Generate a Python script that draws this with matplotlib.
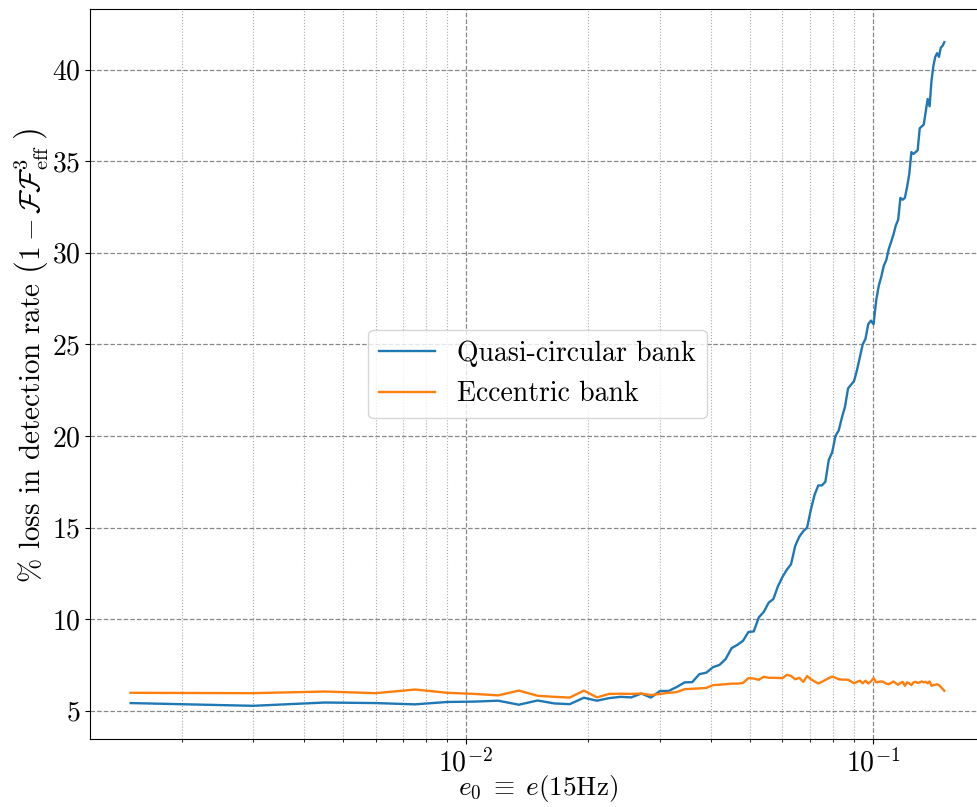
import numpy as np
import matplotlib
matplotlib.use("Agg")
import matplotlib.pyplot as plt

plt.rcParams['font.family'] = 'serif'
plt.rcParams['font.serif'] = ['cmr10', 'DejaVu Serif']
plt.rcParams['mathtext.fontset'] = 'cm'
plt.rcParams['axes.formatter.use_mathtext'] = True
plt.rcParams['axes.unicode_minus'] = False

# eccentricity grid: 0.0015 ... 0.15 in steps of 0.0015
e0 = np.round(np.arange(1, 101) * 0.0015, 6)

quasi_circular = [
    5.42, 5.27, 5.45, 5.42, 5.35, 5.48, 5.50, 5.55, 5.33, 5.56,
    5.40, 5.36, 5.71, 5.55, 5.69, 5.76, 5.73, 5.94, 5.72, 6.08,
    6.08, 6.30, 6.55, 6.56, 7.00, 7.08, 7.38, 7.50, 7.82, 8.42,
    8.60, 8.82, 9.30, 9.33, 10.1, 10.4, 10.9, 11.1, 11.8, 12.3,
    12.7, 13.0, 14.0, 14.5, 14.8, 15.0, 16.0, 16.8, 17.3, 17.3,
    17.5, 18.7, 19.1, 20.0, 20.3, 21.0, 21.6, 22.6, 22.8, 23.0,
    23.6, 24.3, 25.0, 25.3, 26.1, 26.3, 26.1, 27.4, 28.2, 28.7,
    29.3, 29.6, 30.2, 30.6, 31.0, 31.5, 31.8, 33.0, 32.9, 33.0,
    33.6, 34.3, 35.5, 35.4, 35.5, 35.6, 36.8, 36.9, 37.0, 37.7,
    38.4, 38.0, 39.4, 40.2, 40.7, 40.9, 40.7, 41.2, 41.3, 41.5,
]

eccentric = [
    5.98, 5.96, 6.05, 5.96, 6.16, 5.98, 5.92, 5.84, 6.10, 5.82,
    5.76, 5.72, 6.10, 5.73, 5.92, 5.93, 5.92, 5.94, 5.86, 5.92,
    5.98, 6.02, 6.18, 6.20, 6.22, 6.25, 6.40, 6.42, 6.45, 6.48,
    6.48, 6.52, 6.78, 6.76, 6.69, 6.86, 6.80, 6.80, 6.79, 6.78,
    6.96, 6.90, 6.72, 6.80, 6.58, 6.90, 6.72, 6.60, 6.49, 6.58,
    6.68, 6.78, 6.87, 6.80, 6.72, 6.70, 6.70, 6.69, 6.60, 6.50,
    6.58, 6.64, 6.50, 6.64, 6.49, 6.60, 6.78, 6.55, 6.58, 6.60,
    6.56, 6.48, 6.45, 6.52, 6.60, 6.50, 6.42, 6.52, 6.58, 6.36,
    6.55, 6.50, 6.40, 6.55, 6.58, 6.52, 6.55, 6.60, 6.55, 6.58,
    6.50, 6.60, 6.36, 6.40, 6.42, 6.45, 6.40, 6.30, 6.20, 6.09,
]

labels = ['Quasi-circular bank', 'Eccentric bank']

fig = plt.figure(figsize=(9.77, 8.07), dpi=100)
ax = fig.add_axes([90/977, 1 - 739/807, (985 - 90)/977, (739 - 9)/807])

ax.plot(e0, quasi_circular, color='#1f77b4', lw=1.7, label=labels[0])
ax.plot(e0, eccentric, color='#ff7f0e', lw=1.7, label=labels[1])
ax.set_xscale('log')

ax.grid(True, which='major', ls='--', color='#888888', lw=0.9)
ax.grid(True, which='minor', ls=':', color='#aaaaaa', lw=0.8)

fs = 20
ax.tick_params(labelsize=fs)
ax.set_xlabel(r'$e_0 \;\equiv\; e(15\mathrm{Hz})$', fontsize=19.5, labelpad=-3)

ylab_tall = r'% loss in detection rate $\left(1-\mathcal{F}\mathcal{F}^{3}_{\rm eff}\genfrac{}{}{0}{}{\,}{\,}\right)$'
ylab_plain = r'% loss in detection rate $\left(1-\mathcal{F}\mathcal{F}^{3}_{\rm eff}\right)$'
ylab = ax.set_ylabel(ylab_tall, fontsize=fs + 1)
try:
    fig.canvas.draw()
except Exception:
    ylab.set_text(ylab_plain)
ax.yaxis.set_label_coords(-0.045, 0.525)

leg = ax.legend(loc='center', fontsize=fs, framealpha=0.8)

fig.savefig('out.png', dpi=100)
